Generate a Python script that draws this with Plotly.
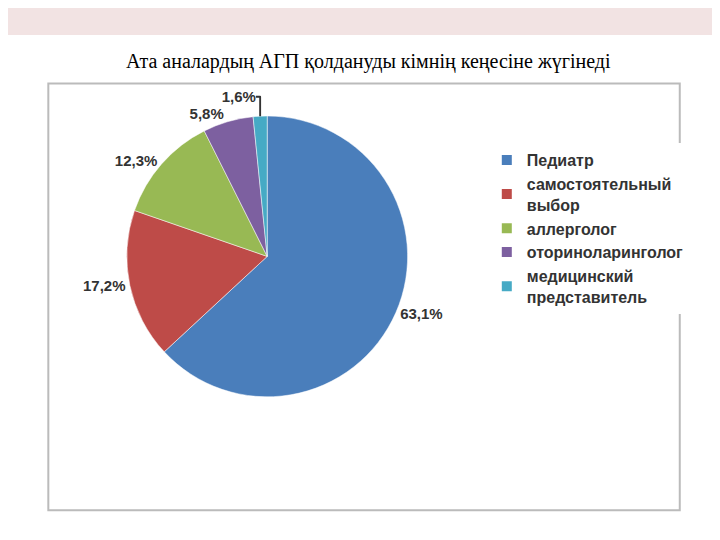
import plotly.graph_objects as go

labels = ["Педиатр", "самостоятельный<br>выбор", "аллерголог", "оториноларинголог", "медицинский<br>представитель"]
values = [63.1, 17.2, 12.3, 5.8, 1.6]
colors = ["#4A7EBB", "#BE4B48", "#98B954", "#7D60A0", "#46AAC5"]
text = [f"<b>{v:.1f}%</b>".replace(".", ",") for v in values]

fig = go.Figure(go.Pie(
    labels=[f"<b>{l}</b>" for l in labels], values=values, text=text, textinfo="text",
    textposition="outside", sort=False, direction="clockwise", rotation=0,
    marker=dict(colors=colors, line=dict(color="white", width=0.5)),
    textfont=dict(family="Liberation Sans", size=15, color="#333"),
    domain=dict(x=[0.16, 0.56], y=[0.28, 0.80]),
    hoverinfo="label+percent",
))
fig.update_layout(
    width=720, height=540, margin=dict(l=0, r=0, t=0, b=0),
    paper_bgcolor="white", plot_bgcolor="white",
    showlegend=True,
    legend=dict(x=0.665, y=0.75, xanchor="left", yanchor="top",
                font=dict(family="Liberation Sans", size=16, color="#333"),
                itemsizing="constant"),
    shapes=[
        dict(type="rect", xref="paper", yref="paper", x0=0, x1=1, y0=0.95, y1=1,
             fillcolor="rgba(230,200,200,0.5)", line=dict(width=0), layer="below"),
        dict(type="rect", xref="paper", yref="paper", x0=0.056, x1=0.933, y0=0.07, y1=0.86,
             fillcolor="rgba(0,0,0,0)", line=dict(color="#bbbbbb", width=2)),
    ],
    annotations=[dict(text="Ата аналардың АГП қолдануды кімнің кеңесіне жүгінеді",
                      x=0.5, y=0.925, xref="paper", yref="paper", showarrow=False,
                      font=dict(family="Liberation Serif", size=20, color="black"))],
)
fig.write_html("out.html")
